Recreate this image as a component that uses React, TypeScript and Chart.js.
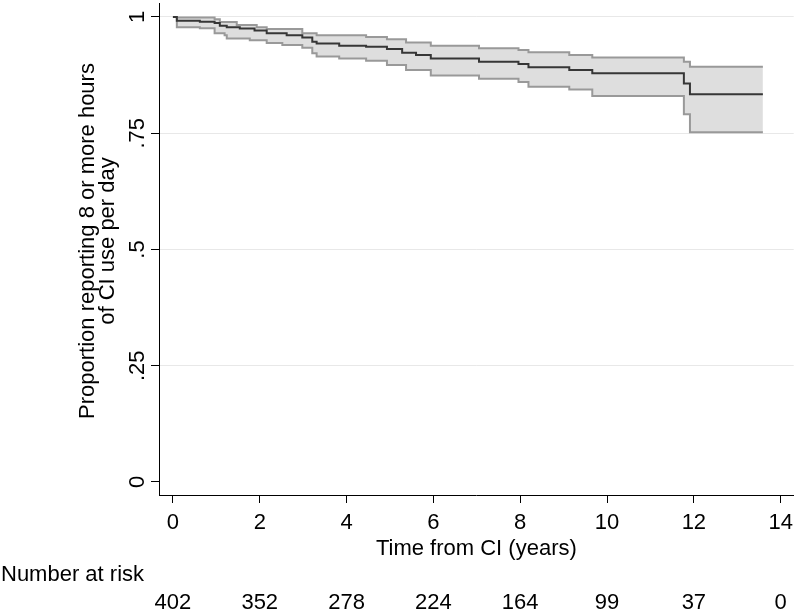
import React, { useEffect, useRef } from 'react';
import { Chart, registerables } from 'chart.js';

Chart.register(...registerables);

// Kaplan-Meier estimate (step values apply from each time onward)
const times = [0, 0.09, 0.62, 0.96, 1.08, 1.19, 1.24, 1.47, 1.54, 1.77, 1.88, 1.93, 2.16, 2.52, 2.62, 2.98, 3.21, 3.31, 3.83, 4.45, 4.93, 5.28, 5.37, 5.6, 5.94, 7.05, 7.96, 8.19, 9.13, 9.66, 11.77, 11.91, 13.59];
const survival = [1.0, 0.992, 0.99, 0.987, 0.981, 0.981, 0.978, 0.978, 0.975, 0.975, 0.971, 0.971, 0.965, 0.965, 0.961, 0.956, 0.947, 0.943, 0.938, 0.936, 0.931, 0.923, 0.923, 0.918, 0.911, 0.904, 0.899, 0.892, 0.886, 0.879, 0.857, 0.834, 0.834];
const upperCI = [1.0, 0.999, 0.999, 0.995, 0.989, 0.989, 0.989, 0.983, 0.983, 0.983, 0.983, 0.978, 0.974, 0.974, 0.974, 0.965, 0.965, 0.961, 0.961, 0.957, 0.952, 0.952, 0.945, 0.945, 0.938, 0.933, 0.929, 0.924, 0.918, 0.913, 0.904, 0.893, 0.893];
const lowerCI = [1.0, 0.978, 0.976, 0.965, 0.965, 0.961, 0.954, 0.954, 0.954, 0.95, 0.95, 0.95, 0.944, 0.94, 0.94, 0.934, 0.922, 0.915, 0.911, 0.906, 0.897, 0.897, 0.886, 0.886, 0.874, 0.867, 0.86, 0.85, 0.844, 0.83, 0.791, 0.752, 0.752];

const xTickValues = [0, 2, 4, 6, 8, 10, 12, 14];
const yTickValues = [0, 0.25, 0.5, 0.75, 1];
const atRiskTimes = [0, 2, 4, 6, 8, 10, 12, 14];
const atRiskCounts = [402, 352, 278, 224, 164, 99, 37, 0];

const yTitleLines = ['Proportion reporting 8 or more hours', 'of CI use per day'];
const xTitle = 'Time from CI (years)';
const atRiskLabel = 'Number at risk';

const FONT = "'Liberation Sans', Arial, Helvetica, sans-serif";

const toPoints = (ys: number[]) => times.map((t, i) => ({ x: t, y: ys[i] }));

const fmtY = (v: number) => {
  if (v === 0) return '0';
  if (v === 1) return '1';
  return String(v).replace(/^0/, '');
};

const extrasPlugin = {
  id: 'kmExtras',
  afterDraw(chart: any) {
    const { ctx, chartArea, scales } = chart;
    const xs = scales.x;
    const ys = scales.y;
    ctx.save();
    ctx.fillStyle = '#000';
    ctx.font = `22px ${FONT}`;
    ctx.textBaseline = 'alphabetic';

    // y tick labels (rotated, reading upward)
    ys.ticks.forEach((tk: any) => {
      const py = ys.getPixelForValue(tk.value);
      ctx.save();
      ctx.translate(144, py);
      ctx.rotate(-Math.PI / 2);
      ctx.textAlign = 'center';
      ctx.fillText(fmtY(tk.value), 0, 0);
      ctx.restore();
    });

    // y-axis title (two rotated lines)
    const cy = (chartArea.top + chartArea.bottom) / 2 - 8;
    ctx.save();
    ctx.translate(94, cy);
    ctx.rotate(-Math.PI / 2);
    ctx.textAlign = 'center';
    yTitleLines.forEach((line, i) => ctx.fillText(line, 0, i * 20));
    ctx.restore();

    // number at risk table
    ctx.textAlign = 'left';
    ctx.fillText(atRiskLabel, 1, 581);
    ctx.textAlign = 'center';
    atRiskTimes.forEach((t, i) => {
      ctx.fillText(String(atRiskCounts[i]), xs.getPixelForValue(t), 609);
    });
    ctx.restore();
  },
};

export default function App() {
  const ref = useRef<HTMLCanvasElement | null>(null);

  useEffect(() => {
    if (!ref.current) return;
    const chart = new Chart(ref.current, {
      type: 'line',
      data: {
        datasets: [
          {
            label: 'Survival',
            data: toPoints(survival),
            stepped: true,
            borderColor: '#363636',
            borderWidth: 2,
            pointRadius: 0,
            fill: false,
          },
          {
            label: 'Upper CI',
            data: toPoints(upperCI),
            stepped: true,
            borderColor: '#999999',
            borderWidth: 2,
            pointRadius: 0,
            fill: '+1',
            backgroundColor: '#dedede',
          },
          {
            label: 'Lower CI',
            data: toPoints(lowerCI),
            stepped: true,
            borderColor: '#999999',
            borderWidth: 2,
            pointRadius: 0,
            fill: false,
          },
        ],
      },
      options: {
        animation: false,
        responsive: false,
        devicePixelRatio: 1,
        layout: { padding: { top: 3, right: 4, left: 0, bottom: 0 } },
        plugins: {
          legend: { display: false },
          tooltip: { enabled: false },
          filler: { drawTime: 'beforeDatasetsDraw' },
        } as any,
        scales: {
          x: {
            type: 'linear',
            min: -0.321,
            max: 14.3,
            afterBuildTicks: (scale: any) => {
              scale.ticks = xTickValues.map((v) => ({ value: v }));
            },
            afterFit: (scale: any) => {
              scale.height = 116;
            },
            grid: {
              display: true,
              drawOnChartArea: false,
              drawTicks: true,
              tickLength: 8,
              tickColor: '#000',
              tickWidth: 1,
            },
            border: { display: true, color: '#000', width: 1 },
            ticks: {
              color: '#000',
              font: { family: FONT, size: 22 },
              padding: 7,
              maxRotation: 0,
              minRotation: 0,
              autoSkip: false,
              callback: (v: any) => String(v),
            },
            title: {
              display: true,
              text: xTitle,
              color: '#000',
              font: { family: FONT, size: 22 },
              padding: { top: 0, bottom: 49 },
            },
          },
          y: {
            type: 'linear',
            min: -0.028,
            max: 1.0301,
            afterBuildTicks: (scale: any) => {
              scale.ticks = yTickValues.map((v) => ({ value: v }));
            },
            afterFit: (scale: any) => {
              scale.width = 159;
            },
            grid: {
              display: true,
              drawOnChartArea: true,
              drawTicks: true,
              tickLength: 8,
              tickColor: '#000',
              tickWidth: 1,
              lineWidth: 1,
              color: (c: any) => (c.tick && c.tick.value === 0 ? 'rgba(0,0,0,0)' : '#e8e8e8'),
            },
            border: { display: true, color: '#000', width: 1 },
            ticks: {
              display: false,
              autoSkip: false,
            },
          },
        },
      },
      plugins: [extrasPlugin],
    } as any);
    return () => chart.destroy();
  }, []);

  return (
    <div style={{ position: 'absolute', left: 0, top: 0, width: 800, height: 611, background: '#fff' }}>
      <canvas ref={ref} width={800} height={611} style={{ display: 'block', width: 800, height: 611 }} />
    </div>
  );
}
